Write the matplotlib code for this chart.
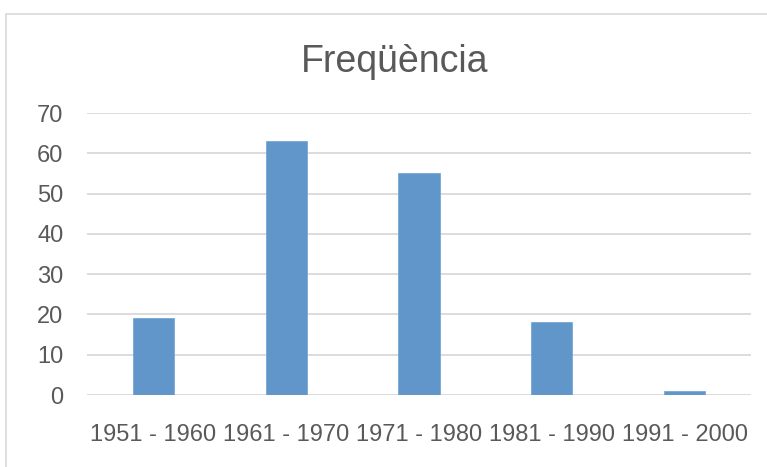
import matplotlib
matplotlib.use('Agg')
import matplotlib.pyplot as plt
from matplotlib.patches import Rectangle

plt.rcParams['font.family'] = ['Liberation Sans', 'DejaVu Sans']

# dades
categories = ['1951 - 1960', '1961 - 1970', '1971 - 1980', '1981 - 1990', '1991 - 2000']
freq = [19, 63, 55, 18, 1]
yticks = [0, 10, 20, 30, 40, 50, 60, 70]

text_color = '#595959'
grid_color = '#D9D9D9'
bar_color = '#6096C9'

fig = plt.figure(figsize=(7.67, 4.67), dpi=100)
ax = fig.add_axes([87 / 767, 1 - 395 / 467, 664 / 767, 282 / 467])

# marc del gràfic
fig.patches.append(Rectangle((5.5 / 767, -0.1), 1.2, 1 - 13.5 / 467 + 0.1,
                             transform=fig.transFigure, fill=False,
                             edgecolor=grid_color, linewidth=1.2))

x = range(len(categories))
ax.bar(x, freq, width=0.31, color=bar_color, edgecolor='#7AA7D6', linewidth=0.6, zorder=3)

ax.set_xlim(-0.5, len(categories) - 0.5)
ax.set_ylim(0, 70)
ax.set_yticks(yticks)
ax.set_xticks(list(x))
ax.set_xticklabels(categories)

ax.grid(axis='y', color=grid_color, linewidth=1.3, zorder=0)
for s in ax.spines.values():
    s.set_visible(False)
ax.tick_params(axis='both', length=0, labelsize=17, colors=text_color)
ax.tick_params(axis='y', pad=17)
ax.tick_params(axis='x', pad=21)

fig.text(395 / 767, 1 - 62 / 467, 'Freqüència', ha='center', va='center',
         fontsize=27, color=text_color)

plt.savefig('out.png', dpi=100)
